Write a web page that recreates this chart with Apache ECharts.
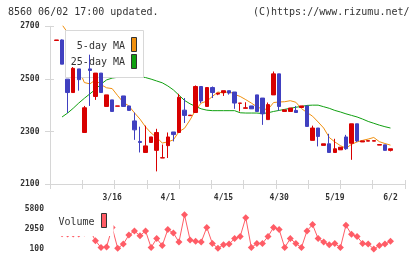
<!DOCTYPE html>
<html>
<head>
<meta charset="utf-8">
<script src="https://cdn.jsdelivr.net/npm/echarts@6/dist/echarts.min.js"></script>
<style>
  html, body { margin: 0; padding: 0; background: #fff; }
  #chart { width: 420px; height: 259px; }
</style>
</head>
<body>
<div id="chart"></div>
<script>
// trading days (one day without trades dropped), last two slots are padding
const dates = [
  '3/2', '3/3', '3/4', '3/5', '3/6', '3/9', '3/10', '3/11', '3/12', '3/13',
  '3/16', '3/17', '3/18', '3/19', '3/23', '3/24', '3/25', '3/26', '3/27', '3/30',
  '4/1', '4/2', '4/3', '4/6', '4/7', '4/8', '4/9', '4/10', '4/13', '4/14',
  '4/15', '4/16', '4/17', '4/20', '4/21', '4/22', '4/23', '4/24', '4/27', '4/28',
  '4/30', '5/1', '5/7', '5/8', '5/11', '5/12', '5/13', '5/14', '5/15', '5/18',
  '5/19', '5/20', '5/21', '5/22', '5/25', '5/26', '5/27', '5/28', '5/29', '6/1', '6/2'
];
const padSlots = [' ', '  '];

const openP = [2646, 2648, 2499, 2448, 2538, 2296, 2538, 2433, 2522, 2395,
  2420, 2396, 2435, 2397, 2340, 2262, 2220, 2258, 2228, 2199,
  2246, 2298, 2296, 2381, 2360, 2372, 2471, 2395, 2467, 2442,
  2448, 2455, 2450, 2407, 2388, 2397, 2439, 2427, 2345, 2439,
  2519, 2376, 2376, 2380, 2391, 2397, 2266, 2313, 2247, 2253,
  2220, 2230, 2279, 2255, 2329, 2260, 2263, 2263, 2248, 2249, 2228];
const closeP = [2648, 2556, 2448, 2540, 2497, 2390, 2532, 2522, 2448, 2439,
  2376, 2397, 2395, 2380, 2306, 2258, 2245, 2279, 2296, 2200,
  2279, 2288, 2430, 2361, 2362, 2471, 2416, 2467, 2448, 2446,
  2455, 2446, 2408, 2408, 2390, 2386, 2376, 2367, 2402, 2519,
  2395, 2382, 2389, 2372, 2397, 2319, 2313, 2281, 2253, 2220,
  2234, 2240, 2234, 2329, 2264, 2264, 2265, 2265, 2250, 2228, 2234];
const lowP = [2646, 2556, 2370, 2448, 2455, 2296, 2397, 2420, 2448, 2395,
  2376, 2396, 2395, 2380, 2268, 2220, 2220, 2258, 2148, 2199,
  2199, 2262, 2296, 2332, 2360, 2372, 2408, 2395, 2427, 2438,
  2435, 2440, 2386, 2376, 2388, 2386, 2376, 2325, 2345, 2439,
  2379, 2376, 2376, 2372, 2391, 2319, 2266, 2243, 2247, 2220,
  2220, 2230, 2230, 2192, 2260, 2260, 2263, 2263, 2248, 2228, 2224];
const highP = [2648, 2650, 2499, 2545, 2538, 2397, 2592, 2522, 2522, 2439,
  2420, 2397, 2435, 2397, 2372, 2318, 2322, 2279, 2310, 2250,
  2296, 2298, 2443, 2427, 2362, 2475, 2471, 2467, 2471, 2446,
  2455, 2455, 2450, 2408, 2411, 2397, 2439, 2427, 2410, 2528,
  2519, 2382, 2389, 2397, 2397, 2397, 2322, 2313, 2253, 2291,
  2272, 2240, 2287, 2329, 2329, 2264, 2265, 2265, 2250, 2249, 2234];

const ma5 = ['-', 2706, 2676, 2610, 2538, 2486, 2481, 2496, 2478, 2466,
  2463, 2436, 2411, 2397, 2371, 2347, 2317, 2294, 2277, 2256,
  2260, 2268, 2299, 2312, 2344, 2382, 2408, 2415, 2433, 2450,
  2446, 2452, 2441, 2433, 2421, 2408, 2394, 2385, 2384, 2410,
  2412, 2413, 2417, 2411, 2387, 2372, 2358, 2336, 2313, 2277,
  2260, 2246, 2236, 2251, 2260, 2266, 2271, 2277, 2261, 2254, 2248];
const ma25 = ['-', 2355, 2370, 2388, 2408, 2426, 2443, 2460, 2480, 2496,
  2503, 2506, 2508, 2509, 2509, 2508, 2505, 2499, 2492, 2485,
  2473, 2458, 2438, 2418, 2405, 2395, 2386, 2381, 2379, 2379,
  2379, 2379, 2379, 2371, 2370, 2370, 2370, 2368, 2371, 2376,
  2380, 2384, 2388, 2392, 2395, 2399, 2400, 2400, 2394, 2388,
  2380, 2374, 2367, 2361, 2355, 2347, 2338, 2331, 2324, 2318, 2313];

const volume = [2500, 2300, 2250, 2250, 2250, 2400, 2800, 1300, 300, 400,
  3200, 200, 800, 2100, 2700, 2000, 2700, 300, 1600, 600,
  2900, 2400, 1100, 5000, 1400, 1200, 1100, 3200, 900, 200,
  700, 800, 1600, 1900, 4600, 300, 900, 900, 1900, 3200,
  2900, 300, 1600, 900, 300, 2700, 3600, 1600, 1100, 700,
  900, 300, 3500, 2200, 1900, 900, 800, 100, 600, 800, 1200];

const priceTicks = [2100, 2700, 200];
const volTicks = [100, 5800, 2850];

const UP = '#d80000';
const DOWN = '#4040c0';
const MA5C = '#f0900f';
const MA25C = '#10a010';
const VOLC = '#ff5c66';
const AXC = '#d6d6d6';
const FONT = 'DejaVu Sans Mono';

const cats = dates.concat(padSlots);
const candles = openP.map((o, i) => [o, closeP[i], lowP[i], highP[i]]);
const labelAt = (idx) => idx >= 10 && idx <= 60 && idx % 10 === 0;

const chart = echarts.init(document.getElementById('chart'), null, { renderer: 'canvas' });

// plain numbers, no thousands separator
const axisLabelStyle = { color: '#333', fontFamily: FONT, fontSize: 8, fontWeight: 'bold',
  formatter: (v) => String(v) };

chart.setOption({
  animation: false,
  backgroundColor: '#fff',
  grid: [
    { left: 50, top: 26.3, width: 355, height: 157.7 },      // axis frame
    { left: 53.7, top: 26.3, width: 350.7, height: 157.7 },  // candles
    { left: 53.7, top: 209.3, width: 350.7, height: 39.7 }   // volume
  ],
  xAxis: [
    { gridIndex: 0, type: 'value', position: 'bottom', min: 0, max: 11, interval: 1,
      axisLine: { lineStyle: { color: AXC } },
      axisTick: { length: 5, lineStyle: { color: AXC } },
      axisLabel: { show: false }, splitLine: { show: false } },
    { gridIndex: 0, type: 'value', position: 'bottom', min: 0, max: 11, interval: 1,
      axisLine: { show: false },
      axisTick: { inside: true, length: 4, lineStyle: { color: AXC } },
      axisLabel: { show: false }, splitLine: { show: false } },
    { gridIndex: 1, type: 'category', data: cats, boundaryGap: true,
      axisLine: { show: false }, axisTick: { show: false },
      axisLabel: { interval: labelAt, margin: 10, color: '#333', fontFamily: FONT,
        fontSize: 8, fontWeight: 'bold' } },
    { gridIndex: 2, type: 'category', data: cats, boundaryGap: true, show: false }
  ],
  yAxis: [
    { gridIndex: 0, type: 'value', position: 'left',
      min: priceTicks[0], max: priceTicks[1], interval: priceTicks[2],
      axisLine: { show: true, lineStyle: { color: AXC } },
      axisTick: { show: true, length: 5, lineStyle: { color: AXC } },
      axisLabel: Object.assign({ margin: 10.5 }, axisLabelStyle),
      splitLine: { show: false } },
    { gridIndex: 0, type: 'value', position: 'left',
      min: priceTicks[0], max: priceTicks[1], interval: priceTicks[2],
      axisLine: { show: false },
      axisTick: { show: true, inside: true, length: 4, lineStyle: { color: AXC } },
      axisLabel: { show: false }, splitLine: { show: false } },
    { gridIndex: 1, type: 'value', min: priceTicks[0], max: priceTicks[1], show: false },
    { gridIndex: 2, type: 'value', min: volTicks[0], max: volTicks[1], interval: volTicks[2],
      axisLine: { show: false }, axisTick: { show: false }, splitLine: { show: false },
      axisLabel: Object.assign({ margin: 9.7 }, axisLabelStyle) }
  ],
  series: [
    { name: '5-day MA', type: 'line', xAxisIndex: 2, yAxisIndex: 2, data: ma5,
      showSymbol: false, silent: true, z: 2,
      lineStyle: { color: MA5C, width: 1 } },
    { name: '25-day MA', type: 'line', xAxisIndex: 2, yAxisIndex: 2, data: ma25,
      showSymbol: false, silent: true, z: 2,
      lineStyle: { color: MA25C, width: 1 } },
    { name: 'price', type: 'candlestick', xAxisIndex: 2, yAxisIndex: 2, data: candles,
      barWidth: 4, z: 10,
      itemStyle: { color: UP, color0: DOWN, borderColor: UP, borderColor0: DOWN,
        borderColorDoji: UP, borderWidth: 1 } },
    { name: 'Volume', type: 'line', xAxisIndex: 3, yAxisIndex: 3, data: volume,
      symbol: 'diamond', symbolSize: 7, showAllSymbol: true, z: 2,
      itemStyle: { color: VOLC }, lineStyle: { color: VOLC, width: 1 } }
  ],
  graphic: [
    { type: 'text', x: 8, y: 12.5, z: 20,
      style: { text: '8560 06/02 17:00 updated.', font: '10px ' + FONT, fill: '#333',
        verticalAlign: 'middle' } },
    { type: 'text', x: 409.5, y: 12.5, z: 20,
      style: { text: '(C)https://www.rizumu.net/', font: '10px ' + FONT, fill: '#333',
        align: 'right', verticalAlign: 'middle' } },
    // moving average legend box
    { type: 'rect', z: 5, shape: { x: 65.5, y: 30.5, width: 78, height: 47 },
      style: { fill: '#fff', stroke: '#d8d8d8', lineWidth: 1 } },
    { type: 'text', x: 125, y: 46.7, z: 6,
      style: { text: '5-day MA', font: '10px ' + FONT, fill: '#333', align: 'right', verticalAlign: 'middle' } },
    { type: 'text', x: 125, y: 62.3, z: 6,
      style: { text: '25-day MA', font: '10px ' + FONT, fill: '#333', align: 'right', verticalAlign: 'middle' } },
    { type: 'rect', z: 6, shape: { x: 131.5, y: 37.5, width: 5, height: 14 },
      style: { fill: MA5C, stroke: '#333', lineWidth: 1 } },
    { type: 'rect', z: 6, shape: { x: 131.5, y: 54.5, width: 5, height: 14 },
      style: { fill: MA25C, stroke: '#333', lineWidth: 1 } },
    // volume legend
    { type: 'rect', z: 5, shape: { x: 53, y: 203, width: 60.5, height: 33 },
      style: { fill: '#fff' } },
    { type: 'text', x: 94.5, y: 222.3, z: 6,
      style: { text: 'Volume', font: '10px ' + FONT, fill: '#333', align: 'right', verticalAlign: 'middle' } },
    { type: 'rect', z: 6, shape: { x: 101.5, y: 213.5, width: 5, height: 14 },
      style: { fill: VOLC, stroke: '#333', lineWidth: 1 } }
  ]
});
</script>
</body>
</html>
